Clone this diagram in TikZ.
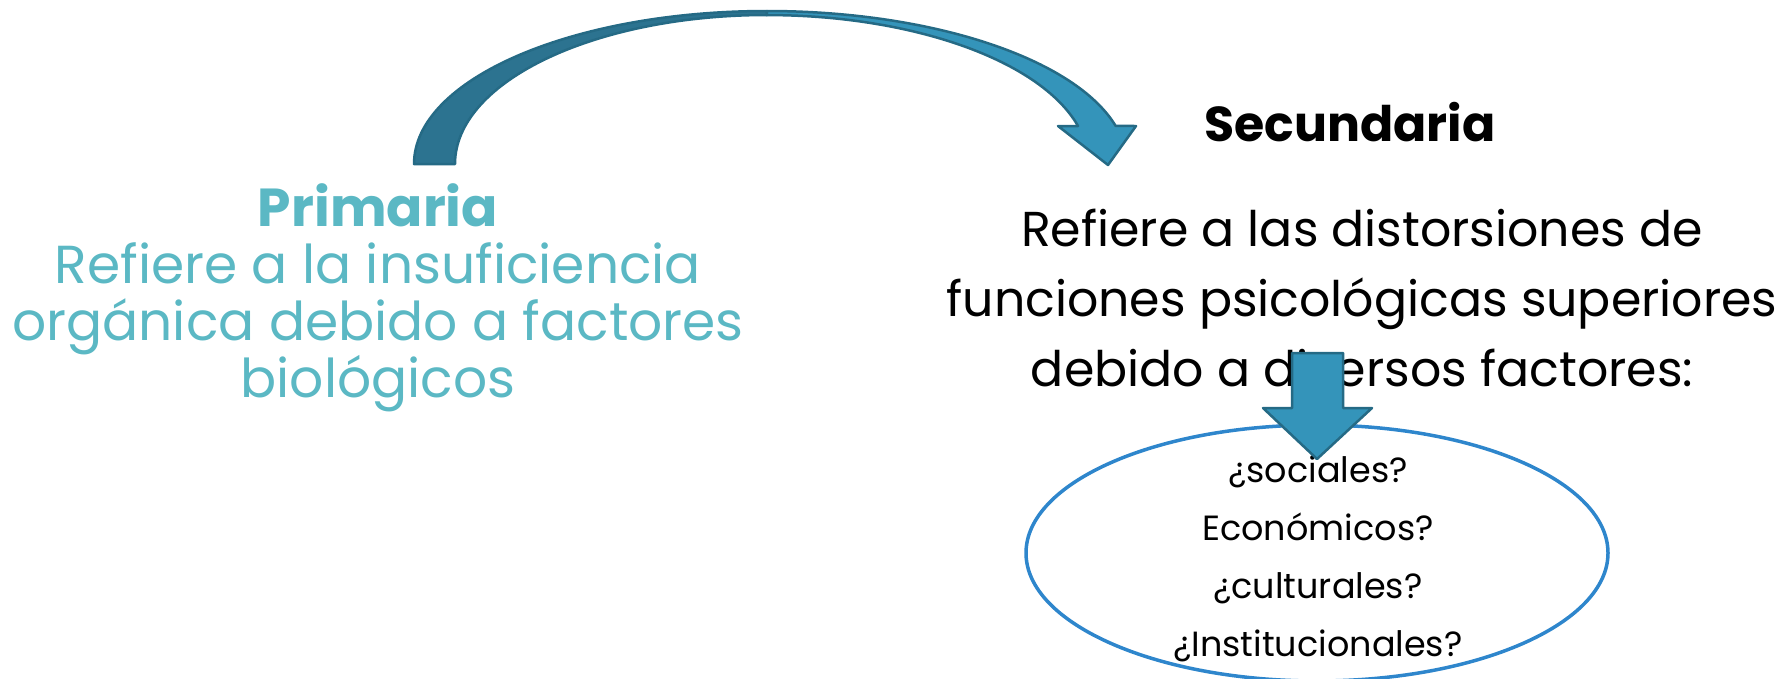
\documentclass[tikz,border=0pt]{standalone}
\usepackage{fontspec}
\usetikzlibrary{shapes.geometric}
\setmainfont{Poppins}
\definecolor{arrdark}{HTML}{2C7390}
\definecolor{arrlight}{HTML}{3494BA}
\definecolor{arredge}{HTML}{256A85}
\definecolor{teal}{HTML}{5BB8C4}
\definecolor{ellblue}{HTML}{2E86CC}
\tikzset{
  bigtext/.style={align=center, inner sep=0pt, font=\fontsize{53.5}{57}\selectfont},
  smalltext/.style={align=center, inner sep=0pt, font=\fontsize{35}{58}\selectfont},
  shapearrow/.style={draw=arredge, line width=2.5pt, line join=round},
}
\begin{document}
\begin{tikzpicture}[x=1pt,y=-1pt]
\useasboundingbox (0,0) rectangle (1789,678);
% ellipse with factors
\node[draw=ellblue, line width=3.5pt, ellipse, minimum width=582pt, minimum height=256pt, inner sep=0pt] (ell) at (1317,553) {};
\node[smalltext] (factors) at (1318,559) {¿sociales?\\Económicos?\\¿culturales?\\¿Institucionales?};
% primary text
\node[bigtext, text=teal] (prim) at (378,298) {{\bfseries Primaria}\\Refiere a la insuficiencia\\orgánica debido a factores\\biológicos};
% secondary
\node[inner sep=0pt, font=\fontsize{49}{57}\selectfont\bfseries] (sec) at (1350,122) {Secundaria};
\node[bigtext, font=\fontsize{49}{70}\selectfont] (secdesc) at (1362,298) {Refiere a las distorsiones de\\funciones psicológicas superiores\\debido a diversos factores:};
% curved arrow: left dark part
\coordinate (cl) at (414,164);
\fill[arrdark, shapearrow] (cl) arc[start angle=180, end angle=270, x radius=353, y radius=153]
  -- (767,15) arc[start angle=270, end angle=180, x radius=312, y radius=149] -- cycle;
% right light part with head
\fill[arrlight, shapearrow] (767,11) arc[start angle=270, end angle=345.6, x radius=360, y radius=153]
  -- (1136,126) -- (1108,165) -- (1058,126) -- (1078,126)
  arc[start angle=345.2, end angle=270, x radius=322, y radius=149] -- cycle;
% down arrow
\fill[arrlight, shapearrow] (1292,353) -- (1343,353) -- (1343,408) -- (1372,408) -- (1317,459) -- (1263,408) -- (1292,408) -- cycle;
\end{tikzpicture}
\end{document}
